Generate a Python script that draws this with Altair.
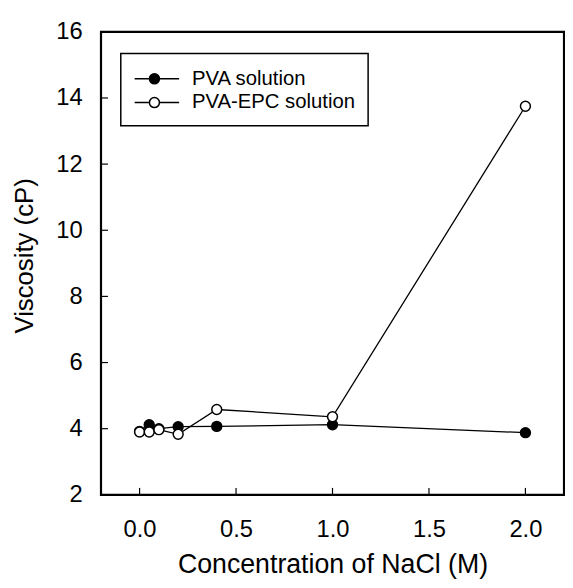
import altair as alt
import pandas as pd

conc = [0.0, 0.05, 0.1, 0.2, 0.4, 1.0, 2.0]
pva = [3.92, 4.12, 4.0, 4.06, 4.07, 4.12, 3.88]
pva_epc = [3.9, 3.9, 3.97, 3.83, 4.58, 4.36, 13.75]
series_names = ["PVA solution", "PVA-EPC solution"]
x_ticks = [0.0, 0.5, 1.0, 1.5, 2.0]
y_ticks = [2, 4, 6, 8, 10, 12, 14, 16]

rows = []
for c, v in zip(conc, pva):
    rows.append({"conc": c, "visc": v, "series": series_names[0]})
for c, v in zip(conc, pva_epc):
    rows.append({"conc": c, "visc": v, "series": series_names[1]})
df = pd.DataFrame(rows)

FONT = "Liberation Sans"
W, H = 468, 468

xscale = alt.Scale(domain=[-0.2, 2.2], nice=False, zero=False)
yscale = alt.Scale(domain=[2, 16], nice=False, zero=False)

xaxis = alt.Axis(values=x_ticks, format=".1f", ticks=False, tickSize=0, domain=False, grid=False,
                 labelFontSize=24, labelFont=FONT, labelColor="black", labelPadding=23,
                 title="Concentration of NaCl (M)", titleFontSize=27, titleFont=FONT,
                 titleFontWeight="normal", titleColor="black",
                 titleBaseline="alphabetic", titleY=78)
yaxis = alt.Axis(values=y_ticks, format="d", ticks=False, tickSize=0, domain=False, grid=False,
                 labelFontSize=24, labelFont=FONT, labelColor="black", labelPadding=19,
                 title="Viscosity (cP)", titleFontSize=26, titleFont=FONT,
                 titleFontWeight="normal", titleColor="black",
                 titleBaseline="alphabetic", titleX=-69, titleY=226)

sym_path = "M-1,0H0.3M1.18,0H2.91M0.3,0A0.44,0.44 0 1,0 1.18,0A0.44,0.44 0 1,0 0.3,0"

xt = pd.DataFrame({"t": x_ticks})
yt = pd.DataFrame({"t": y_ticks})
xticks = alt.Chart(xt).mark_rule(color="black", strokeWidth=1.2).encode(
    x=alt.X("t:Q", scale=xscale, axis=xaxis), y=alt.value(H), y2=alt.value(H - 7))
yticks = alt.Chart(yt).mark_rule(color="black", strokeWidth=1.2).encode(
    y=alt.Y("t:Q", scale=yscale, axis=yaxis), x=alt.value(0), x2=alt.value(7))

lines = alt.Chart(df).mark_line(color="black", strokeWidth=1.3).encode(
    x=alt.X("conc:Q", scale=xscale, axis=xaxis),
    y=alt.Y("visc:Q", scale=yscale, axis=yaxis),
    detail="series:N",
)

points = alt.Chart(df).mark_point(filled=False, stroke="black", strokeWidth=1.5,
                                  size=100, opacity=1, shape="circle").encode(
    x=alt.X("conc:Q", scale=xscale, axis=xaxis),
    y=alt.Y("visc:Q", scale=yscale, axis=yaxis),
    fill=alt.Fill("series:N",
                  scale=alt.Scale(domain=series_names, range=["black", "white"]),
                  legend=alt.Legend(orient="none", legendX=20, legendY=22, title=None,
                                    symbolType=sym_path, symbolSize=529,
                                    symbolStrokeColor="black", symbolStrokeWidth=1.5,
                                    symbolOpacity=1,
                                    labelFontSize=20.5, labelFont=FONT, labelColor="black",
                                    labelOffset=34, labelLimit=400, rowPadding=1, padding=13,
                                    strokeColor="black", fillColor="white")),
    order=alt.Order("series:N"),
)

chart = alt.layer(xticks, yticks, lines, points).properties(
    width=W, height=H,
    background="white",
    autosize=alt.AutoSizeParams(type="none"),
    padding={"left": 94, "top": 21, "right": 1, "bottom": 83},
).configure_view(stroke="black", strokeWidth=2.2).configure_axis(
    ticks=False, domain=False, grid=False
).configure_legend(strokeWidth=1.5)

chart.save("out.html", embed_options={"renderer": "svg", "actions": False})
